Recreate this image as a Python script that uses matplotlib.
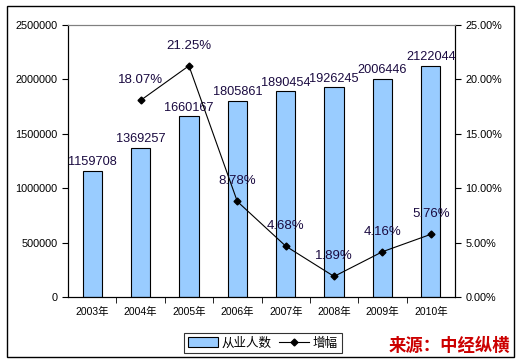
import matplotlib
matplotlib.use("Agg")
import matplotlib.pyplot as plt
from matplotlib.patches import Rectangle
from matplotlib.ticker import FuncFormatter, MultipleLocator

plt.rcParams['font.family'] = ['Liberation Sans', 'Noto Sans CJK SC', 'DejaVu Sans']

years = ['2003年', '2004年', '2005年', '2006年', '2007年', '2008年', '2009年', '2010年']
employees = [1159708, 1369257, 1660167, 1805861, 1890454, 1926245, 2006446, 2122044]
growth = [None, 18.07, 21.25, 8.78, 4.68, 1.89, 4.16, 5.76]

W, H = 516, 364
fig = plt.figure(figsize=(W/100, H/100), dpi=100)
ax = fig.add_axes([68/W, 1-297/H, (455-68)/W, (297-25)/H])
ax2 = ax.twinx()

x = list(range(len(years)))
ax.bar(x, employees, width=0.4, color='#99ccff', edgecolor='black', linewidth=0.8, zorder=2)
for xi, v in zip(x, employees):
    ax.text(xi, v + 25000, f'{v}', ha='center', va='bottom', fontsize=9.2, color='#1a0a40', zorder=5)

ax.set_xlim(-0.5, len(years)-0.5)
ax.set_ylim(0, 2500000)
ax.yaxis.set_major_locator(MultipleLocator(500000))
ax.yaxis.set_major_formatter(FuncFormatter(lambda v, p: f'{int(v)}'))
ax.set_xticks(x)
ax.set_xticklabels(years, fontsize=7.5)
ax.set_xticks([i + 0.5 for i in x[:-1]], minor=True)
ax.tick_params(axis='x', which='major', length=0, pad=7)
ax.tick_params(axis='x', which='minor', length=4, direction='out')
ax.tick_params(axis='y', labelsize=7.8, length=4, direction='out')
for a in (ax, ax2):
    a.spines['top'].set_color('#808080')
    a.spines['left'].set_linewidth(0.8)
    a.spines['right'].set_linewidth(0.8)
    a.spines['bottom'].set_linewidth(0.8)

gx = [xi for xi, g in zip(x, growth) if g is not None]
gy = [g for g in growth if g is not None]
line, = ax2.plot(gx, gy, color='black', linewidth=0.8, marker='D', markersize=3.5, zorder=4)
for xi, g in zip(gx, gy):
    ax2.text(xi, g + 1.3, f'{g:.2f}%', ha='center', va='bottom', fontsize=9.5, color='#1a0a40', zorder=5)
ax2.set_ylim(0, 25)
ax2.yaxis.set_major_locator(MultipleLocator(5))
ax2.yaxis.set_major_formatter(FuncFormatter(lambda v, p: f'{v:.2f}%'))
ax2.tick_params(axis='y', labelsize=7.8, length=4, direction='out')

bar_handle = Rectangle((0, 0), 1, 1, facecolor='#99ccff', edgecolor='black', linewidth=0.8)
leg = fig.legend([bar_handle, line], ['从业人数', '增幅'], loc='center',
                 bbox_to_anchor=(263/W, 1-343/H), ncol=2, frameon=True, fancybox=False,
                 edgecolor='black', fontsize=9, handlelength=2.4, handleheight=0.8,
                 columnspacing=0.6, handletextpad=0.3, borderpad=0.3, borderaxespad=0.2)
leg.get_frame().set_linewidth(0.8)
for t in leg.get_texts():
    t.set_family(['Noto Sans CJK SC'])

fig.text(510/W, 1-346/H, '来源：中经纵横', ha='right', va='center', fontsize=12.5,
         color='#cc0000', fontweight='bold', style='italic', family=['Noto Sans CJK SC'])

fig.patches.append(Rectangle((7/W, 1-357/H), (514-7)/W, (357-6)/H, transform=fig.transFigure,
                             fill=False, edgecolor='black', linewidth=1.0))

fig.savefig('out.png', dpi=100)
